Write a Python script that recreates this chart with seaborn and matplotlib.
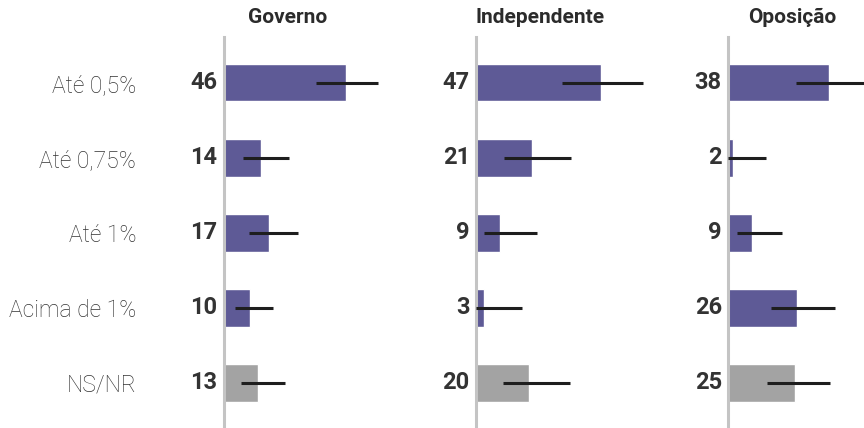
import numpy as np
import pandas as pd
import matplotlib
matplotlib.use('Agg')
import matplotlib.pyplot as plt
import matplotlib.transforms as mtransforms
import seaborn as sns

# data
categorias = ['Até 0,5%', 'Até 0,75%', 'Até 1%', 'Acima de 1%', 'NS/NR']
paineis = ['Governo', 'Independente', 'Oposição']

governo = [46, 14, 17, 10, 13]
independente = [47, 21, 9, 3, 20]
oposicao = [38, 2, 9, 26, 25]

# margin of error lines (low / high end)
governo_lo = [34.7, 7.2, 9.7, 4.2, 6.6]
governo_hi = [58.0, 24.6, 28.0, 18.6, 23.2]
independente_lo = [32.3, 10.5, 3.0, 0.0, 10.2]
independente_hi = [62.4, 35.7, 22.7, 17.2, 35.3]
oposicao_lo = [25.4, 0.0, 3.3, 16.1, 14.6]
oposicao_hi = [52.0, 14.1, 20.3, 40.0, 38.2]

valores = [governo, independente, oposicao]
lows = [governo_lo, independente_lo, oposicao_lo]
highs = [governo_hi, independente_hi, oposicao_hi]

roxo = '#5e5a96'
cinza = '#a3a3a3'
cores = [roxo, roxo, roxo, roxo, cinza]

sns.set_style('white')
plt.rcParams['font.family'] = ['Roboto', 'DejaVu Sans']

W, H = 864, 428
fig = plt.figure(figsize=(W / 100, H / 100), dpi=100)

lefts = [223.5, 476, 728]
ax_w = 240
top = 37.3
px_per_unit = 2.67

for k, nome in enumerate(paineis):
    ax = fig.add_axes([lefts[k] / W, 0, ax_w / W, (H - top) / H])
    df = pd.DataFrame({'cat': categorias, 'val': valores[k]})
    sns.barplot(data=df, x='val', y='cat', hue='cat', palette=cores,
                orient='h', width=0.5, errorbar=None, legend=False,
                saturation=1, ax=ax)
    ax.hlines(range(len(categorias)), lows[k], highs[k], color='#1e1e1e',
              linewidth=2.2, zorder=5, clip_on=False)

    ax.set_xlim(0, ax_w / px_per_unit)
    ax.set_ylim(4.6, -0.605)
    ax.set_xlabel('')
    ax.set_ylabel('')
    ax.set_xticks([])
    for s in ['top', 'right', 'bottom']:
        ax.spines[s].set_visible(False)
    ax.spines['left'].set_color('#c4c4c4')
    ax.spines['left'].set_linewidth(2.2)

    if k == 0:
        ax.tick_params(axis='y', length=0, pad=63, labelsize=16.5,
                       labelcolor='#333333')
        for t in ax.get_yticklabels():
            t.set_fontweight('light')
    else:
        ax.set_yticklabels([])
        ax.tick_params(axis='y', length=0)

    for i, v in enumerate(valores[k]):
        ax.annotate(str(v), xy=(0, i), xytext=(-4.5, 0),
                    textcoords='offset points', ha='right', va='center',
                    fontsize=17, fontweight='bold', color='#333333',
                    annotation_clip=False)

    trans = mtransforms.blended_transform_factory(ax.transData, ax.transAxes)
    ax.text(24, 1 + 20 / (H - top), nome, transform=trans, ha='center',
            va='center', fontsize=15, fontweight='bold', color='#2b2b2b')

fig.savefig('out.png', dpi=100)
